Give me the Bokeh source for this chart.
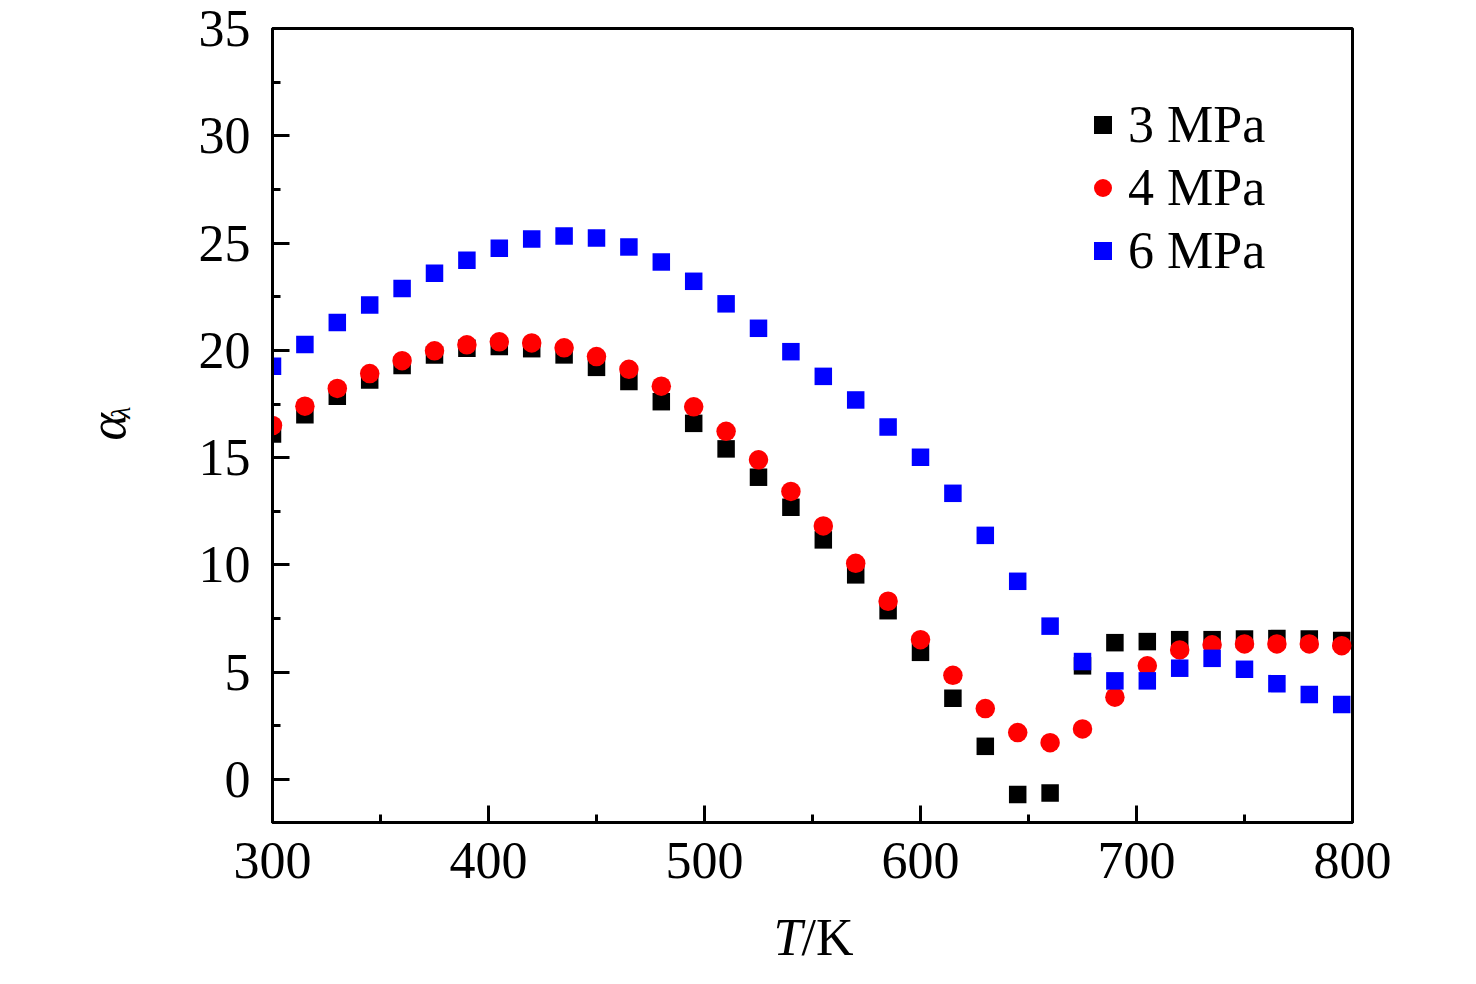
import math
from bokeh.plotting import figure
from bokeh.models import Range1d, SingleIntervalTicker, Label, Legend, LegendItem
from bokeh.embed import file_html
from bokeh.resources import INLINE

T = [300, 315, 330, 345, 360, 375, 390, 405, 420, 435, 450, 465, 480, 495, 510, 525, 540,
     555, 570, 585, 600, 615, 630, 645, 660, 675, 690, 705, 720, 735, 750, 765, 780, 795]
a_3MPa = [16.1, 17.0, 17.86, 18.62, 19.3, 19.79, 20.1, 20.18, 20.08, 19.79, 19.21, 18.55,
          17.61, 16.6, 15.41, 14.09, 12.69, 11.17, 9.54, 7.87, 5.93, 3.79, 1.55, -0.70,
          -0.62, 5.3, 6.38, 6.43, 6.52, 6.52, 6.55, 6.57, 6.55, 6.48]
a_4MPa = [16.5, 17.4, 18.23, 18.92, 19.52, 19.98, 20.26, 20.4, 20.35, 20.12, 19.71, 19.12,
          18.33, 17.37, 16.23, 14.9, 13.43, 11.82, 10.08, 8.31, 6.52, 4.86, 3.31, 2.19,
          1.72, 2.36, 3.84, 5.3, 6.04, 6.28, 6.32, 6.32, 6.32, 6.24]
a_6MPa = [19.26, 20.28, 21.3, 22.12, 22.88, 23.6, 24.2, 24.76, 25.19, 25.33, 25.24, 24.82,
          24.12, 23.22, 22.17, 21.03, 19.94, 18.79, 17.69, 16.43, 15.02, 13.34, 11.38, 9.24,
          7.15, 5.5, 4.6, 4.6, 5.19, 5.65, 5.14, 4.47, 3.97, 3.5]
series_labels = ["3 MPa", "4 MPa", "6 MPa"]

FONT = "Liberation Serif"
FS = "52px"

p = figure(width=1460, height=968, output_backend="svg", toolbar_location=None,
           x_range=Range1d(300, 800), y_range=Range1d(-2, 35),
           min_border_left=272, min_border_right=108, min_border_top=28, min_border_bottom=146)
p.background_fill_color = "white"
p.border_fill_color = "white"
p.grid.visible = False
p.outline_line_color = "black"
p.outline_line_width = 3

p.xaxis.ticker = SingleIntervalTicker(interval=100, num_minor_ticks=2)
p.yaxis.ticker = SingleIntervalTicker(interval=5, num_minor_ticks=2)
for ax in (p.xaxis, p.yaxis):
    ax.axis_line_width = 3
    ax.axis_line_color = "black"
    ax.major_tick_in = 17
    ax.major_tick_out = 0
    ax.minor_tick_in = 8
    ax.minor_tick_out = 0
    ax.major_tick_line_width = 3
    ax.minor_tick_line_width = 3
    ax.major_tick_line_color = "black"
    ax.minor_tick_line_color = "black"
    ax.major_label_text_font = FONT
    ax.major_label_text_font_size = FS
    ax.major_label_text_color = "black"
p.yaxis.major_label_standoff = 22
p.xaxis.major_label_standoff = 20

r3 = p.scatter(T, a_3MPa, marker="square", size=17.5, fill_color="black", line_color="black", line_width=0)
r4 = p.scatter(T, a_4MPa, marker="circle", size=19.5, fill_color="#ff0000", line_color="#ff0000", line_width=0)
r6 = p.scatter(T, a_6MPa, marker="square", size=17.5, fill_color="#0000ff", line_color="#0000ff", line_width=0)

legend = Legend(items=[LegendItem(label=series_labels[0], renderers=[r3]),
                       LegendItem(label=series_labels[1], renderers=[r4]),
                       LegendItem(label=series_labels[2], renderers=[r6])],
                location=(808, 540), orientation="vertical",
                glyph_width=45, glyph_height=63, label_height=63, label_standoff=3,
                spacing=0, padding=0, margin=0,
                border_line_color=None, background_fill_alpha=0,
                label_text_font=FONT, label_text_font_size=FS, label_text_color="black")
p.add_layout(legend)

# x-axis title: italic T + upright /K (placed in data units below the frame)
p.add_layout(Label(x=531.9, y=-7.38, text="T", text_font=FONT, text_font_style="italic",
                   text_font_size=FS, text_color="black", text_align="left",
                   text_baseline="alphabetic"), "right")
p.add_layout(Label(x=544.9, y=-7.38, text="/K", text_font=FONT, text_font_size=FS,
                   text_color="black", text_align="left", text_baseline="alphabetic"), "right")
# y-axis title: italic alpha with subscript lambda, rotated
p.add_layout(Label(x=223.6, y=15.8, text="α", text_font=FONT, text_font_style="italic",
                   text_font_size=FS, text_color="black", angle=math.pi / 2,
                   text_align="left", text_baseline="alphabetic"), "left")
p.add_layout(Label(x=229.6, y=16.82, text="λ", text_font=FONT, text_font_style="italic",
                   text_font_size="28px", text_color="black", angle=math.pi / 2,
                   text_align="left", text_baseline="alphabetic"), "left")

open("out.html", "w").write(file_html(p, INLINE))
